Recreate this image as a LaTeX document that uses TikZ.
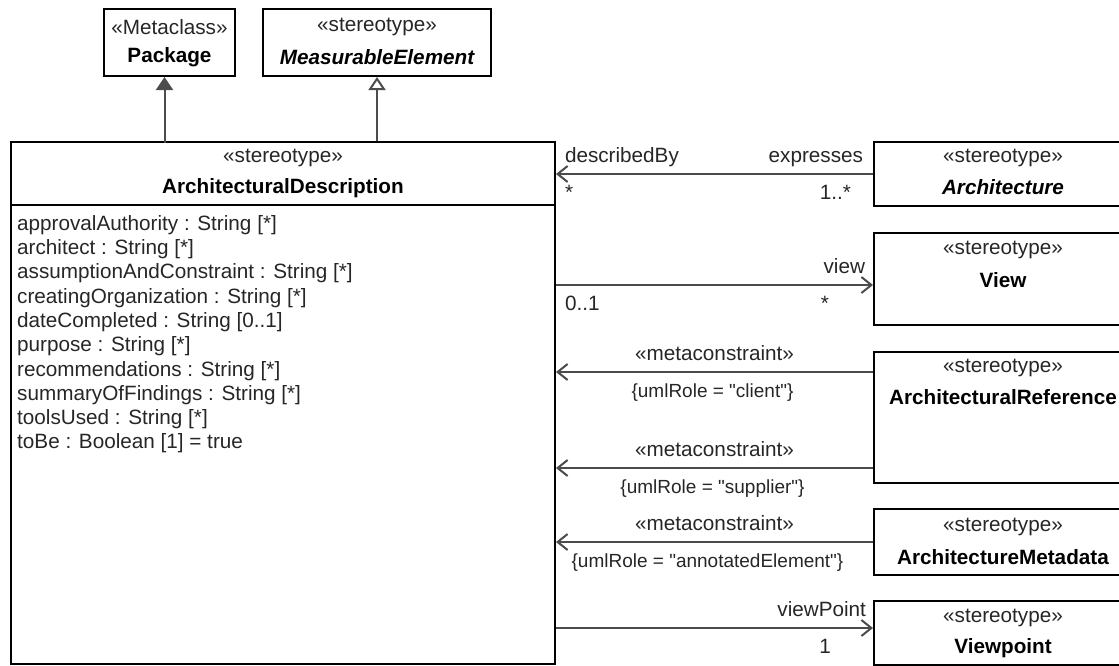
\documentclass[tikz,border=0pt]{standalone}
\usepackage{fontspec}
\setmainfont{Liberation Sans}[Ligatures=TeXOff]
\usetikzlibrary{arrows.meta, positioning}

\begin{document}
\begin{tikzpicture}[x=1pt, y=-1pt,
        box/.style={draw=black, line width=2pt, anchor=north west, inner sep=0pt},
        txt/.style={font=\fontsize{20.7}{24.3}\selectfont, text=black!85, inner sep=0pt},
        cname/.style={txt, font=\fontsize{20.7}{24.3}\selectfont\bfseries, text=black},
        iname/.style={txt, font=\fontsize{20.7}{24.3}\selectfont\bfseries\itshape, text=black},
        conn/.style={draw=black!70, line width=2pt},
        assoc/.style={conn, -{Straight Barb[length=10pt, width=16pt]}},
        uplbl/.style={txt, yshift=12pt},
        lowlbl/.style={txt, yshift=-25pt},
        rolelbl/.style={lowlbl, font=\fontsize{19}{23}\selectfont}
    ]
        \useasboundingbox (0,0) rectangle (1119,665);
        \clip (0,0) rectangle (1119,665);

        % classes
        \node[box, minimum width=131pt, minimum height=67pt] (pkg) at (103,8) {};
        \node[box, minimum width=228pt, minimum height=67pt] (meas) at (262,8) {};
        \node[box, minimum width=544pt, minimum height=522pt] (ad) at (10,141) {};
        \node[box, minimum width=258pt, minimum height=64pt] (arch) at (873,141) {};
        \node[box, minimum width=258pt, minimum height=92pt] (view) at (873,232) {};
        \node[box, minimum width=258pt, minimum height=131pt] (aref) at (873,351) {};
        \node[box, minimum width=258pt, minimum height=66pt] (meta) at (873,508) {};
        \node[box, minimum width=258pt, minimum height=64pt] (vpt) at (873,600) {};

        \node[txt] (pkgst) at ([yshift=-19pt]pkg.north) {«Metaclass»};
        \node[cname] (pkgnm) at ([yshift=-49pt]pkg.north) {Package};
        \node[txt] (measst) at ([yshift=-19pt]meas.north) {«stereotype»};
        \node[iname] (measnm) at ([yshift=-49pt]meas.north) {MeasurableElement};
        \node[txt] (adst) at ([yshift=-17pt]ad.north) {«stereotype»};
        \node[cname] (adnm) at ([yshift=-47pt]ad.north) {ArchitecturalDescription};
        \node[txt] (archst) at ([yshift=-17pt]arch.north) {«stereotype»};
        \node[iname] (archnm) at ([yshift=-46pt]arch.north) {Architecture};
        \node[txt] (viewst) at ([yshift=-18pt]view.north) {«stereotype»};
        \node[cname] (viewnm) at ([yshift=-48pt]view.north) {View};
        \node[txt] (arefst) at ([yshift=-17pt]aref.north) {«stereotype»};
        \node[cname] (arefnm) at ([yshift=-46pt]aref.north) {ArchitecturalReference};
        \node[txt] (metast) at ([yshift=-19pt]meta.north) {«stereotype»};
        \node[cname] (metanm) at ([yshift=-49pt]meta.north) {ArchitectureMetadata};
        \node[txt] (vptst) at ([yshift=-18pt]vpt.north) {«stereotype»};
        \node[cname] (vptnm) at ([yshift=-48pt]vpt.north) {Viewpoint};

        % attribute compartment
        \draw[line width=2pt] ([yshift=-64pt]ad.north west) -- ([yshift=-64pt]ad.north east);
        \node[txt, align=left, anchor=north west] (attrs) at (17,215) {%
            approvalAuthority : String [*]\\
            architect : String [*]\\
            assumptionAndConstraint : String [*]\\
            creatingOrganization : String [*]\\
            dateCompleted : String [0..1]\\
            purpose : String [*]\\
            recommendations : String [*]\\
            summaryOfFindings : String [*]\\
            toolsUsed : String [*]\\
            toBe : Boolean [1] = true};

        % extension and generalization
        \draw[conn, {Triangle[length=13pt, width=17pt]}-] ([xshift=-5pt]pkg.south) -- ++(0,66);
        \draw[conn, {Triangle[open, length=13pt, width=17pt, fill=white]}-] (meas.south) -- (meas.south |- ad.north);

        % associations
        \coordinate (viewin) at ([yshift=-6pt]view.west);
        \coordinate (arefc) at ([yshift=45.5pt]aref.west);
        \coordinate (arefs) at ([yshift=-50.5pt]aref.west);
        \coordinate (vptin) at ([yshift=5pt]vpt.west);

        \draw[assoc] (arch.west) -- (arch.west -| ad.east)
            node[uplbl, at start, anchor=base east, xshift=-9pt] (lexp) {expresses}
            node[lowlbl, at start, anchor=base east, xshift=-21pt] (lexpm) {1..*}
            node[uplbl, at end, anchor=base west, xshift=8pt] (ldesc) {describedBy}
            node[lowlbl, at end, anchor=base west, xshift=8pt] (ldescm) {*};
        \draw[assoc] (viewin -| ad.east) -- (viewin)
            node[uplbl, at end, anchor=base east, xshift=-7pt] (lview) {view}
            node[lowlbl, at end, anchor=base east, xshift=-43pt] (lviewm) {*}
            node[lowlbl, at start, anchor=base west, xshift=8pt] (ladm) {0..1};
        \draw[assoc] (arefc) -- (arefc -| ad.east)
            node[uplbl, midway, anchor=base] (mc1) {«metaconstraint»}
            node[rolelbl, midway, anchor=base, xshift=-2pt] (role1) {\{umlRole = "client"\}};
        \draw[assoc] (arefs) -- (arefs -| ad.east)
            node[uplbl, midway, anchor=base] (mc2) {«metaconstraint»}
            node[rolelbl, midway, anchor=base, xshift=-2pt] (role2) {\{umlRole = "supplier"\}};
        \draw[assoc] (meta.west) -- (meta.west -| ad.east)
            node[uplbl, midway, anchor=base] (mc3) {«metaconstraint»}
            node[rolelbl, midway, anchor=base, xshift=-7pt] (role3) {\{umlRole = "annotatedElement"\}};
        \draw[assoc] (vptin -| ad.east) -- (vptin)
            node[uplbl, at end, anchor=base east, xshift=-6pt] (lvpt) {viewPoint}
            node[lowlbl, at end, anchor=base east, xshift=-41pt] (lvptm) {1};
    \end{tikzpicture}
\end{document}
